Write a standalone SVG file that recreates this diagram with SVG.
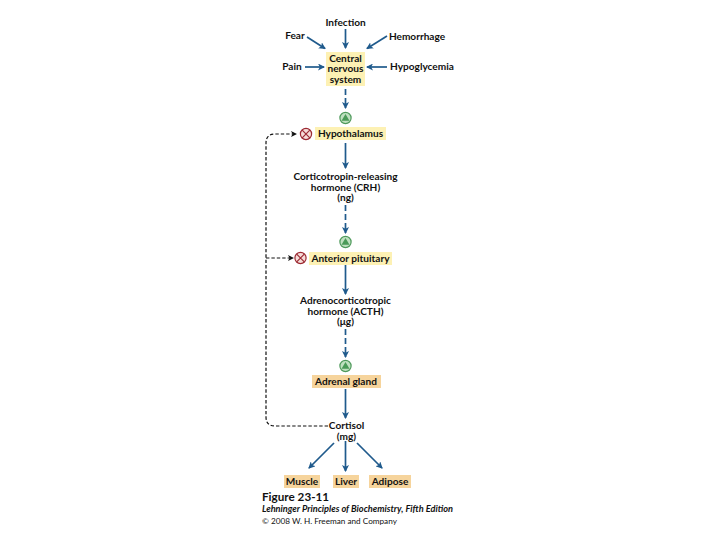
<svg xmlns="http://www.w3.org/2000/svg" width="720" height="540" viewBox="0 0 720 540">
<style>
text{font-family:"Lato","Open Sans","Liberation Sans",sans-serif;font-weight:700;font-size:10.100px;fill:#111;text-anchor:middle}
.y{fill:#fdf1b4}.o{fill:#f6d49c}
.s{stroke:#1f5a8c;stroke-width:1.7;fill:none;marker-end:url(#a)}
.d{stroke:#1f5a8c;stroke-width:1.7;fill:none;stroke-dasharray:6 3;marker-end:url(#a)}
.k{stroke:#111;stroke-width:1.2;fill:none;stroke-dasharray:3.4 2}
.g{fill:#bfe0c0;stroke:#4f9a5c;stroke-width:1.2}.t{fill:#4a9a58}
.x{fill:#f6dcd8;stroke:#9c2a33;stroke-width:1.2}.xl{stroke:#9c2a33;stroke-width:1.2}
.c{text-anchor:start;font-family:"Lato","Liberation Sans",sans-serif}
</style>
<defs>
<marker id="a" markerWidth="7" markerHeight="7" refX="6" refY="3.500" orient="auto" markerUnits="userSpaceOnUse"><path d="M0 0L7 3.500L0 7L1.800 3.500Z" fill="#1f5a8c"/></marker>
<marker id="b" markerWidth="6" markerHeight="6" refX="5" refY="3" orient="auto" markerUnits="userSpaceOnUse"><path d="M0 0L6 3L0 6L1.500 3Z" fill="#111"/></marker>
<g id="plus"><circle r="5.600" class="g"/><path d="M0-4L4 2.800H-4Z" class="t"/></g>
<g id="minus"><circle r="5.600" class="x"/><path d="M-3.800-3.800L3.800 3.800M3.800-3.800L-3.800 3.800" class="xl"/></g>
</defs>
<g id="connectors">
<path class="s" d="M345.500 29V48"/>
<path class="s" d="M307 37L325 48.500"/>
<path class="s" d="M387 36L367 48.500"/>
<path class="s" d="M305 67H324"/>
<path class="s" d="M387 67H367"/>
<path class="d" d="M345.500 89V108"/>
<path class="s" d="M345.500 143V168"/>
<path class="d" d="M345.500 205V233"/>
<path class="s" d="M345.500 265V294"/>
<path class="d" d="M345.500 329V357"/>
<path class="s" d="M345.500 389V418"/>
<path class="s" d="M334 443L309 468"/>
<path class="s" d="M345.500 441V471"/>
<path class="s" d="M357 443L382 468"/>
<path class="k" d="M328 426H275Q266 426 266 417V143Q266 134 275 134H296" marker-end="url(#b)"/>
<path class="k" d="M266 258H293" marker-end="url(#b)"/>
</g>
<g id="infection"><text x="345.500" y="25.500">Infection</text></g>
<g id="fear"><text x="295" y="39">Fear</text></g>
<g id="hemorrhage"><text x="417" y="40">Hemorrhage</text></g>
<g id="pain"><text x="292" y="70">Pain</text></g>
<g id="hypoglycemia"><text x="422" y="70">Hypoglycemia</text></g>
<g id="cns"><rect class="y" x="326" y="52" width="39" height="34"/><text x="345.500" y="61.500">Central</text><text x="345.500" y="72">nervous</text><text x="345.500" y="82.500">system</text></g>
<g id="plus1"><use href="#plus" x="345.500" y="118"/></g>
<g id="minus1"><use href="#minus" x="306" y="134"/></g>
<g id="hypothalamus"><rect class="y" x="315" y="127" width="71" height="13"/><text x="350.500" y="136.500">Hypothalamus</text></g>
<g id="crh"><text x="345.500" y="180">Corticotropin-releasing</text><text x="345.500" y="190.500">hormone (CRH)</text><text x="345.500" y="201">(ng)</text></g>
<g id="plus2"><use href="#plus" x="345.500" y="242"/></g>
<g id="minus2"><use href="#minus" x="300.500" y="258"/></g>
<g id="pituitary"><rect class="y" x="309" y="252" width="83" height="13"/><text x="350.500" y="261.500">Anterior pituitary</text></g>
<g id="acth"><text x="345.500" y="304">Adrenocorticotropic</text><text x="345.500" y="314.500">hormone (ACTH)</text><text x="345.500" y="325">(μg)</text></g>
<g id="plus3"><use href="#plus" x="345.500" y="366"/></g>
<g id="adrenal"><rect class="o" x="312" y="375" width="69" height="13"/><text x="346" y="384.500">Adrenal gland</text></g>
<g id="cortisol"><text x="346.500" y="428.500">Cortisol</text><text x="346.500" y="439.500">(mg)</text></g>
<g id="muscle"><rect class="o" x="284" y="475" width="36" height="13"/><text x="302" y="485">Muscle</text></g>
<g id="liver"><rect class="o" x="333" y="475" width="26" height="13"/><text x="346" y="485">Liver</text></g>
<g id="adipose"><rect class="o" x="369" y="475" width="42" height="13"/><text x="390" y="485">Adipose</text></g>
<g id="caption">
<text class="c" x="262" y="501" style="font-size:11.700px">Figure 23-11</text>
<text class="c" x="262" y="512" style="font-size:9.200px;font-style:italic">Lehninger Principles of Biochemistry, Fifth Edition</text>
<text class="c" x="262" y="524" style="font-size:8.200px;font-weight:400">© 2008 W. H. Freeman and Company</text>
</g>
</svg>
